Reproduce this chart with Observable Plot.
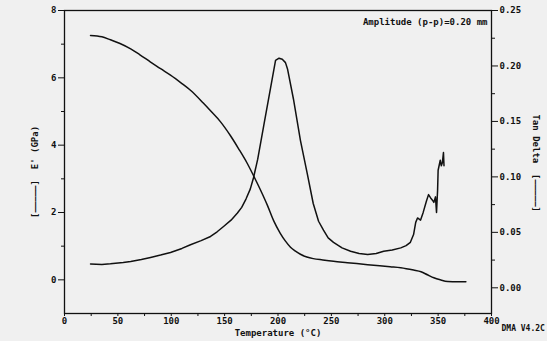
<!DOCTYPE html>
<html>
<head>
<meta charset="utf-8">
<script src="https://cdn.jsdelivr.net/npm/d3@7"></script>
<script src="https://cdn.jsdelivr.net/npm/@observablehq/plot@0.6"></script>
<style>
  html, body { margin: 0; padding: 0; background: #f0f0f0; }
  #chart { width: 547px; height: 341px; }
</style>
</head>
<body>
<div id="chart"></div>
<script>
// Storage modulus E' (GPa) vs temperature (°C)
const tempE = [24.4, 35, 43, 52, 62, 70, 80.6, 90, 99.3, 110, 118, 130, 136.8, 146, 155.5, 163, 171, 177, 183.6, 190, 196, 202, 207, 211.7, 216, 221, 227, 233, 242, 252, 265, 284, 305, 315, 327, 334, 340, 346, 352, 359, 368, 376];
const eValues = [7.26, 7.22, 7.13, 7.02, 6.86, 6.70, 6.47, 6.27, 6.08, 5.83, 5.63, 5.25, 5.02, 4.70, 4.28, 3.90, 3.47, 3.10, 2.67, 2.22, 1.75, 1.39, 1.15, 0.97, 0.86, 0.76, 0.68, 0.63, 0.59, 0.55, 0.51, 0.45, 0.39, 0.36, 0.29, 0.24, 0.15, 0.06, 0.00, -0.05, -0.06, -0.06];

// Tan Delta vs temperature (°C)
const tempTan = [24.4, 35, 43, 55, 62, 72, 80.6, 90, 99.3, 110, 118, 128, 136.8, 143, 149, 156, 162, 166, 170, 174, 177, 181, 186.6, 193, 197.7, 201, 204, 207, 209, 214.5, 221, 227.6, 233, 238, 242.6, 247, 252, 260, 268, 276, 284, 292, 299, 307, 315, 320, 324, 327, 329, 330.7, 333.5, 336, 339, 341, 343, 344.7, 346, 347.5, 348.5, 349.5, 350, 352, 353, 354, 355, 355.5];
const tanValues = [0.0214, 0.0210, 0.0216, 0.0228, 0.0237, 0.0255, 0.0274, 0.0295, 0.0319, 0.0355, 0.0388, 0.0425, 0.0463, 0.0505, 0.0553, 0.0610, 0.0674, 0.0725, 0.0800, 0.0890, 0.0990, 0.116, 0.146, 0.180, 0.205, 0.207, 0.206, 0.203, 0.197, 0.170, 0.133, 0.102, 0.076, 0.060, 0.052, 0.045, 0.041, 0.036, 0.033, 0.031, 0.030, 0.031, 0.033, 0.034, 0.036, 0.038, 0.041, 0.048, 0.059, 0.063, 0.061, 0.068, 0.078, 0.084, 0.081, 0.079, 0.077, 0.082, 0.068, 0.088, 0.106, 0.115, 0.110, 0.113, 0.122, 0.110];

// Axis ticks
const xTicks = [0, 50, 100, 150, 200, 250, 300, 350, 400];
const xMinorTicks = [25, 75, 125, 175, 225, 275, 325, 375];
const eTicks = [0, 2, 4, 6, 8];
const eMinorTicks = [1, 3, 5, 7];
const tanTicks = [0, 0.05, 0.10, 0.15, 0.20, 0.25];
const tanMinorTicks = [0.025, 0.075, 0.125, 0.175, 0.225];

// Texts
const xLabel = "Temperature (°C)";
const leftLabel = "[\u2014\u2014\u2014\u2014\u2014]  E' (GPa)";
const rightLabel = "Tan Delta  [\u2014\u2014\u2014\u2014\u2014]";
const note = "Amplitude (p-p)=0.20 mm";
const version = "DMA V4.2C";

// Secondary axis mapping: tan delta 0 -> E' -0.237, 0.25 -> 8
const tanToE = d3.scaleLinear().domain([0, 0.25]).range([-0.237, 8]);

const eData = tempE.map((t, i) => ({t, v: eValues[i]}));
const tanData = tempTan.map((t, i) => ({t, v: tanValues[i]}));

const font = "'DejaVu Sans Mono', monospace";

const chart = Plot.plot({
  width: 547,
  height: 341,
  marginLeft: 64,
  marginRight: 56,
  marginTop: 10,
  marginBottom: 28,
  style: { background: "transparent", fontFamily: font, fontSize: "9px", fontWeight: "bold", color: "#111" },
  x: { domain: [0, 400] },
  y: { domain: [-1, 8] },
  marks: [
    Plot.frame({ stroke: "#111", strokeWidth: 1.3 }),
    Plot.axisX(xTicks, { tickSize: 3, tickPadding: 1, label: null, tickFormat: d => String(d) }),
    Plot.axisX(xMinorTicks, { tickSize: 3, label: null, tickFormat: () => "" }),
    Plot.axisY(eTicks, { tickSize: 6, tickPadding: 2, label: null, tickFormat: d => String(d) }),
    Plot.axisY(eMinorTicks, { tickSize: 3, label: null, tickFormat: () => "" }),
    Plot.axisY(tanTicks, { anchor: "right", y: d => tanToE(d), tickSize: 6, tickPadding: 2, label: null, tickFormat: d3.format(".2f") }),
    Plot.axisY(tanMinorTicks, { anchor: "right", y: d => tanToE(d), tickSize: 3, label: null, tickFormat: () => "" }),
    Plot.line(eData, { x: "t", y: "v", stroke: "#111", strokeWidth: 1.5, curve: "monotone-x" }),
    Plot.line(tanData, { x: "t", y: d => tanToE(d.v), stroke: "#111", strokeWidth: 1.5 }),
    Plot.text([xLabel], { frameAnchor: "bottom", dy: 22, fontSize: 9, fontWeight: "bold" }),
    Plot.text([leftLabel], { frameAnchor: "left", dx: -29, dy: 56, rotate: -90, fontSize: 9, fontWeight: "bold" }),
    Plot.text([rightLabel], { frameAnchor: "right", dx: 44, dy: 50, rotate: 90, fontSize: 9, fontWeight: "bold" }),
    Plot.text([note], { frameAnchor: "top-right", textAnchor: "end", dx: -4, dy: 8, fontSize: 9, fontWeight: "bold" }),
    Plot.text([version], { frameAnchor: "bottom-right", textAnchor: "start", dx: 10, dy: 17, fontSize: 8, fontWeight: "bold" })
  ]
});
document.getElementById("chart").appendChild(chart);
</script>
</body>
</html>
